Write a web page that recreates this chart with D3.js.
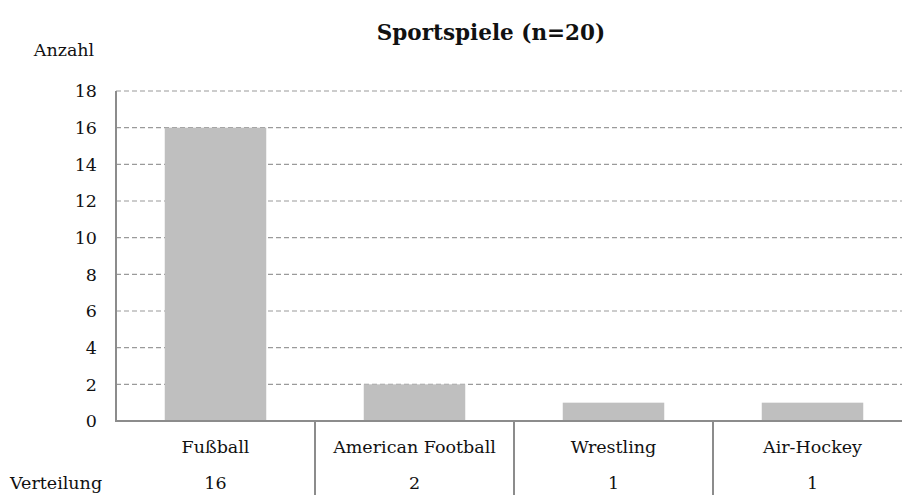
<!DOCTYPE html>
<html><head><meta charset="utf-8">
<script src="https://cdn.jsdelivr.net/npm/d3@7"></script>
<style>
html,body{margin:0;padding:0;background:#fff;}
svg{display:block;}
text{font-family:"DejaVu Serif",serif;fill:#111;}
</style></head>
<body>
<svg id="chart" width="902" height="495"></svg>
<script>
const categories = ["Fußball", "American Football", "Wrestling", "Air-Hockey"];
const values = [16, 2, 1, 1];
const yTicks = [0, 2, 4, 6, 8, 10, 12, 14, 16, 18];
const title = "Sportspiele (n=20)";
const yTitle = "Anzahl";
const rowLabel = "Verteilung";

const svg = d3.select("#chart");
const x = d3.scaleBand().domain(categories).range([116, 912]).paddingInner(0.49).paddingOuter(0.245);
const xb = d3.scaleBand().domain(categories).range([116, 912]);
const y = d3.scaleLinear().domain([0, 18]).range([421, 91]);
const fs = 17.5;

// gridlines
svg.append("g").selectAll("line").data(yTicks.filter(d => d > 0)).join("line")
  .attr("x1", 116).attr("x2", 902).attr("y1", d => y(d)).attr("y2", d => y(d))
  .attr("stroke", "#9a9a9a").attr("stroke-width", 1.2).attr("stroke-dasharray", "5,3");

// bars
svg.append("g").selectAll("rect").data(values).join("rect")
  .attr("x", (d, i) => x(categories[i])).attr("width", x.bandwidth())
  .attr("y", d => y(d)).attr("height", d => y(0) - y(d))
  .attr("fill", "#bfbfbf");

// axes lines
svg.append("line").attr("x1", 116).attr("x2", 116).attr("y1", y(18)).attr("y2", y(0))
  .attr("stroke", "#8c8c8c").attr("stroke-width", 2);
svg.append("line").attr("x1", 115).attr("x2", 902).attr("y1", y(0)).attr("y2", y(0))
  .attr("stroke", "#8c8c8c").attr("stroke-width", 2);

// table dividers
svg.append("g").selectAll("line").data(categories.slice(1)).join("line")
  .attr("x1", d => xb(d)).attr("x2", d => xb(d)).attr("y1", y(0)).attr("y2", 495)
  .attr("stroke", "#8c8c8c").attr("stroke-width", 2);

// y tick labels
svg.append("g").selectAll("text").data(yTicks).join("text")
  .attr("x", 97).attr("y", d => y(d)).attr("dy", "0.36em")
  .attr("text-anchor", "end").attr("font-size", fs).text(d => d);

// category labels
svg.append("g").selectAll("text").data(categories).join("text")
  .attr("x", d => xb(d) + xb.bandwidth() / 2).attr("y", 447).attr("dy", "0.36em")
  .attr("text-anchor", "middle").attr("font-size", fs).text(d => d);

// value row
svg.append("g").selectAll("text").data(values).join("text")
  .attr("x", (d, i) => xb(categories[i]) + xb.bandwidth() / 2).attr("y", 483).attr("dy", "0.36em")
  .attr("text-anchor", "middle").attr("font-size", fs).text(d => d);

svg.append("text").attr("x", 10).attr("y", 483).attr("dy", "0.36em")
  .attr("font-size", fs).text(rowLabel);

svg.append("text").attr("x", 64).attr("y", 50).attr("dy", "0.36em")
  .attr("text-anchor", "middle").attr("font-size", fs).text(yTitle);

svg.append("text").attr("x", 491).attr("y", 32).attr("dy", "0.36em")
  .attr("text-anchor", "middle").attr("font-size", 21.5).attr("font-weight", "bold").text(title);
</script>
</body></html>
